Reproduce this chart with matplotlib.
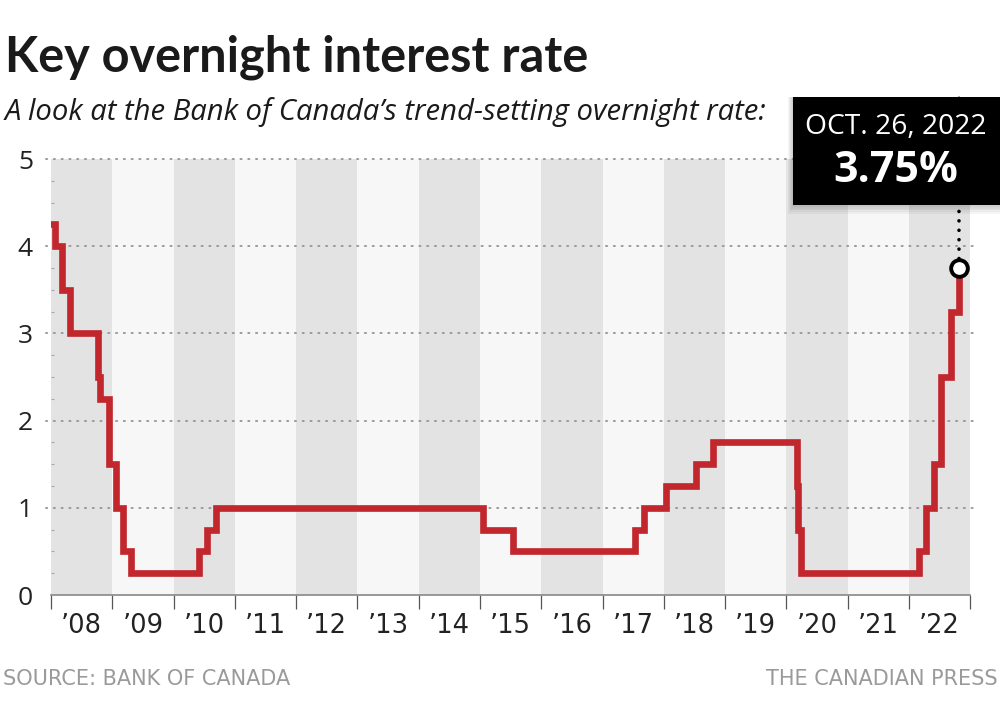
import matplotlib
matplotlib.use("Agg")
import matplotlib.pyplot as plt
import matplotlib.dates as mdates
from matplotlib.patches import Rectangle
import datetime as dt
import numpy as np

# ---- data ----
change_dates = ["2008-01-01", "2008-01-22", "2008-03-04", "2008-04-22", "2008-10-08",
                "2008-10-21", "2008-12-09", "2009-01-20", "2009-03-03", "2009-04-21",
                "2010-06-01", "2010-07-20", "2010-09-08", "2015-01-21", "2015-07-15",
                "2017-07-12", "2017-09-06", "2018-01-17", "2018-07-11", "2018-10-24",
                "2020-03-04", "2020-03-13", "2020-03-27", "2022-03-02", "2022-04-13",
                "2022-06-01", "2022-07-13", "2022-09-07", "2022-10-26"]
rates = [4.25, 4.00, 3.50, 3.00, 2.50, 2.25, 1.50, 1.00, 0.50, 0.25,
         0.50, 0.75, 1.00, 0.75, 0.50, 0.75, 1.00, 1.25, 1.50, 1.75,
         1.25, 0.75, 0.25, 0.50, 1.00, 1.50, 2.50, 3.25, 3.75]
years = list(range(2008, 2023))
year_labels = ["\u2019%02d" % (y % 100) for y in years]
y_ticks = [0, 1, 2, 3, 4, 5]
callout_date = "OCT. 26, 2022"
callout_value = "3.75%"

title = "Key overnight interest rate"
subtitle = "A look at the Bank of Canada\u2019s trend-setting overnight rate:"
source = "SOURCE: BANK OF CANADA"
credit = "THE CANADIAN PRESS"

dates = [dt.datetime.strptime(d, "%Y-%m-%d") for d in change_dates]

fig = plt.figure(figsize=(10, 7.18), dpi=100)
fig.patch.set_facecolor("white")
ax = fig.add_axes([0.051, 0.1713, 0.919, 0.6072])

x0 = mdates.date2num(dt.datetime(2008, 1, 1))
x1 = mdates.date2num(dt.datetime(2023, 1, 1))
ax.set_xlim(x0, x1)
ax.set_ylim(0, 5)

# alternating bands
for i, y in enumerate(years):
    a = mdates.date2num(dt.datetime(y, 1, 1))
    b = mdates.date2num(dt.datetime(y + 1, 1, 1))
    ax.axvspan(a, b, color="#e3e3e3" if i % 2 == 0 else "#f7f7f7", lw=0, zorder=0)

# dotted gridlines
for v in y_ticks[1:]:
    ax.axhline(v, xmin=-0.005, xmax=1.004, color="#9a9a9a", lw=1.4,
               linestyle=(0, (0.6, 3.4)), dash_capstyle="round", clip_on=False, zorder=1)

ax.step(dates, rates, where="post", color="#c1272d", lw=4.8, zorder=3,
        solid_joinstyle="miter", solid_capstyle="round")

for s in ["top", "right", "left"]:
    ax.spines[s].set_visible(False)
ax.spines["bottom"].set_color("#888888")
ax.spines["bottom"].set_linewidth(1.2)
ax.spines["bottom"].set_zorder(4)

# x ticks
ax.set_xticks([mdates.date2num(dt.datetime(y, 1, 1)) for y in years + [2023]])
ax.set_xticklabels([])
ax.set_xticks([mdates.date2num(dt.datetime(y, 7, 2)) for y in years], minor=True)
ax.set_xticklabels(year_labels, minor=True, fontsize=18.5, color="#222222",
                   family=["Liberation Sans Narrow", "DejaVu Sans"])
ax.tick_params(axis="x", which="major", length=10, width=0.9, color="#555555", direction="out")
ax.tick_params(axis="x", which="minor", length=0, pad=13)

# y ticks
ax.set_yticks(y_ticks)
ax.set_yticklabels([str(v) for v in y_ticks], fontsize=19, color="#222222",
                   family=["Open Sans", "DejaVu Sans"])
ax.set_yticks(np.arange(0.25, 5, 0.25), minor=True)
ax.tick_params(axis="y", which="major", length=0, pad=13)
ax.tick_params(axis="y", which="minor", length=2.5, width=0.8, color="#aaaaaa", direction="in")

# end point marker and callout
end_x = mdates.date2num(dates[-1])
ax.plot([end_x, end_x], [3.75, 5.7], color="black", lw=2.6, linestyle=(0, (0.01, 2.6)),
        dash_capstyle="round", clip_on=False, zorder=5)
ax.plot([end_x], [3.75], marker="o", ms=12, mfc="white", mec="black", mew=2.8,
        clip_on=False, zorder=6)

# callout box with shadow
bx, by, bw, bh = 0.793, 0.7145, 0.207, 0.1504
for k in range(5):
    off = 0.0018 * (k + 1)
    fig.patches.append(Rectangle((bx - off * 0.6, by - off * 1.4), bw + off * 1.2, bh + off * 1.4,
                                 transform=fig.transFigure, color="black", alpha=0.04,
                                 lw=0, zorder=8))
fig.patches.append(Rectangle((bx, by), bw, bh, transform=fig.transFigure,
                             color="black", lw=0, zorder=9))
fig.text(0.896, 1 - 127 / 718, callout_date, color="white", fontsize=20.3,
         ha="center", va="center", family=["Open Sans", "DejaVu Sans"], zorder=10)
fig.text(0.896, 1 - 170 / 718, callout_value, color="white", fontsize=31,
         fontweight="bold", ha="center", va="center",
         family=["Open Sans", "DejaVu Sans"], zorder=10)

# titles
fig.text(0.005, 1 - 57 / 718, title, fontsize=35, fontweight="bold", color="#1a1a1a",
         ha="left", va="center", family=["Lato", "DejaVu Sans"])
fig.text(0.005, 1 - 112 / 718, subtitle, fontsize=21.1, style="italic", color="#1a1a1a",
         ha="left", va="center", family=["Open Sans", "DejaVu Sans"])

fig.text(0.003, 1 - 679 / 718, source, fontsize=15, color="#9a9a9a",
         ha="left", va="center", family=["Liberation Sans Narrow", "DejaVu Sans"])
fig.text(0.998, 1 - 679 / 718, credit, fontsize=15, color="#9a9a9a",
         ha="right", va="center", family=["Liberation Sans Narrow", "DejaVu Sans"])

fig.savefig("out.png", dpi=100)
